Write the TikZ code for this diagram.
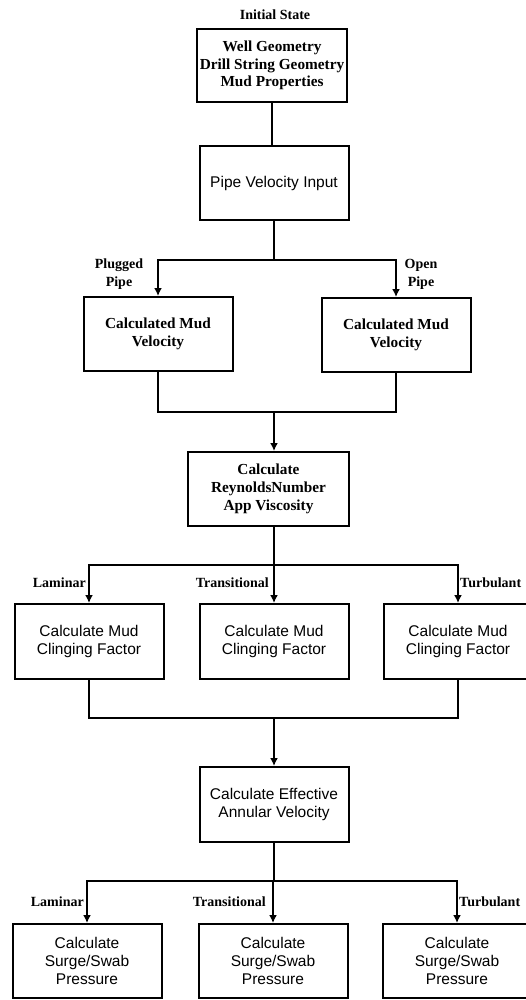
\documentclass[tikz,border=0pt]{standalone}
\usepackage{fontspec}
\setmainfont{Liberation Serif}
\setsansfont{Liberation Sans}
\usetikzlibrary{positioning,arrows.meta}

\begin{document}
\begin{tikzpicture}[x=1pt,y=-1pt,
box/.style={rectangle, draw=black, line width=2pt, minimum width=149pt, minimum height=74pt, align=center, inner sep=2pt},
serifbox/.style={box, font=\fontsize{15.3}{17.8}\selectfont\bfseries},
sansbox/.style={box, font=\fontsize{15.5}{18}\selectfont\sffamily},
tag/.style={font=\fontsize{14}{18}\selectfont\bfseries, inner sep=0pt, align=center},
link/.style={line width=2pt},
flow/.style={link, -{Latex[length=8pt,width=8pt]}}
]
\useasboundingbox (0,0) rectangle (526,1000);

%Initial state
\node[tag] (initial) at (275,15) {Initial State};
\node[serifbox, minimum width=150pt, minimum height=73pt] (geometry) at (272,65.5) {Well Geometry\\Drill String Geometry\\Mud Properties};
\node[sansbox] (pipevel) at (274,183) {Pipe Velocity Input};

%Mud velocity
\node[serifbox] (plugged) at (158,334) {Calculated Mud\\Velocity};
\node[serifbox] (open) at (396,335) {Calculated Mud\\Velocity};
\node[tag] (plugtag) at (119,274) {Plugged\\Pipe};
\node[tag] (opentag) at (421,274) {Open\\Pipe};

\node[serifbox, minimum width=161pt] (reynolds) at (268.5,489) {Calculate\\ReynoldsNumber\\App Viscosity};

%Clinging factor
\node[sansbox, minimum height=75pt] (clingL) at (89,641.5) {Calculate Mud\\Clinging Factor};
\node[sansbox, minimum height=75pt] (clingM) at (274,641.5) {Calculate Mud\\Clinging Factor};
\node[sansbox, minimum height=75pt] (clingR) at (458,641.5) {Calculate Mud\\Clinging Factor};
\node[tag, anchor=east] (lamA) at (86,583) {Laminar};
\node[tag, anchor=east] (transA) at (269,583) {Transitional};
\node[tag, anchor=west] (turbA) at (460,583) {Turbulant};

\node[sansbox, minimum height=75pt] (effective) at (274,804.5) {Calculate Effective\\Annular Velocity};

%Surge/Swab
\node[sansbox] (surgeL) at (87,961) {Calculate\\Surge/Swab\\Pressure};
\node[sansbox] (surgeM) at (273,961) {Calculate\\Surge/Swab\\Pressure};
\node[sansbox] (surgeR) at (457,961) {Calculate\\Surge/Swab\\Pressure};
\node[tag, anchor=east] (lamB) at (84,902) {Laminar};
\node[tag, anchor=east] (transB) at (266,902) {Transitional};
\node[tag, anchor=west] (turbB) at (459,902) {Turbulant};

\coordinate (split1) at (274,260);
\coordinate (join1) at (274,412);
\coordinate (split2) at (274,565);
\coordinate (join2) at (274,718);
\coordinate (split3) at (274,881);

%Connections
\draw[link] (geometry.south) -- (geometry.south |- pipevel.north);
\draw[link] (pipevel.south) -- (split1);
\draw[flow] (split1) -| (plugged.north);
\draw[flow] (split1) -| (open.north);

\draw[link] (plugged.south) |- (join1);
\draw[link] (open.south) |- (join1);
\draw[flow] (join1) -- (join1 |- reynolds.north);

\draw[link] (split2 |- reynolds.south) -- (split2);
\draw[flow] (split2) -| (clingL.north);
\draw[flow] (split2) -- (clingM.north);
\draw[flow] (split2) -| (clingR.north);

\draw[link] (clingL.south) |- (join2);
\draw[link] (clingR.south) |- (join2);
\draw[flow] (join2) -- (effective.north);

\draw[link] (effective.south) -- (split3);
\draw[flow] (split3) -| (surgeL.north);
\draw[flow] (split3) -| (surgeM.north);
\draw[flow] (split3) -| (surgeR.north);
\end{tikzpicture}
\end{document}
